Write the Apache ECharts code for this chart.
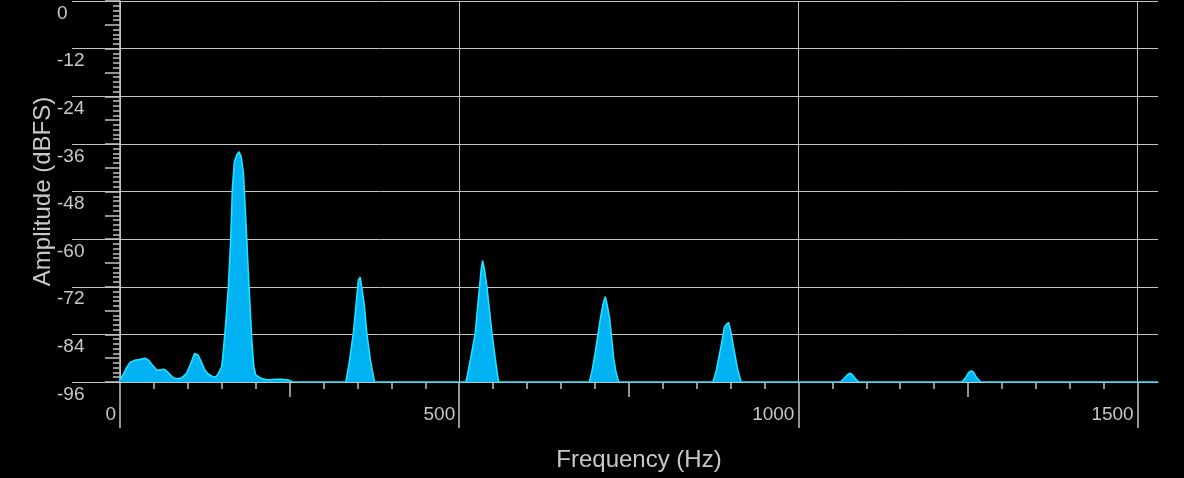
<!DOCTYPE html>
<html>
<head>
<meta charset="utf-8">
<script src="https://cdn.jsdelivr.net/npm/echarts@6/dist/echarts.min.js"></script>
<style>
html,body{margin:0;padding:0;background:#000;}
#c{width:1184px;height:478px;}
</style>
</head>
<body>
<div id="c"></div>
<script>
// Spectrum samples
const freqs = [
  0, 5, 10, 15, 22, 30, 37, 42, 48, 54, 60, 64, 68, 72, 77, 81, 88, 93, 98, 104,
  110, 115, 120, 125, 130, 135, 140, 144, 150, 152, 155.9, 159.8, 163.2, 165.6, 168.6, 172.1, 175.5, 178.5, 181.9, 184.4,
  186.9, 189.2, 191.7, 194.2, 197.2, 200, 205, 209, 218, 228, 238, 248, 255,
  333, 338, 344, 348, 351.5, 354, 356.4, 360, 363.8, 369, 375,
  510, 517, 523.6, 527, 530, 532.5, 534.5, 537, 540.8, 544.5, 548.2, 553, 558,
  692, 696, 700.6, 705, 709, 712.5, 715.3, 718, 721.7, 725, 727.6, 731, 735,
  874, 878.5, 882.5, 887, 891, 894, 897.2, 900.5, 904.6, 910, 915.4,
  1062, 1068, 1072, 1075.7, 1079, 1084, 1089,
  1241, 1247, 1251, 1254.7, 1258, 1263, 1269,
  1530
];
const amps = [
  -95.5, -94, -92.3, -91.1, -90.5, -90.3, -90.0, -90.5, -91.8, -93.0, -93.0, -92.8, -93.1, -93.8, -94.7, -95.1, -95.1, -94.7, -93.8, -91.5,
  -88.8, -89.2, -91.0, -93.0, -94.0, -94.5, -94.8, -94.2, -92.1, -88.8, -81.2, -72.0, -60.2, -47.6, -40.5, -38.8, -38.0, -39.2, -43.4, -51.8,
  -60.2, -68.6, -77.0, -85.4, -92.1, -94.2, -94.8, -95.1, -95.5, -95.3, -95.3, -95.5, -96,
  -96, -91, -83.7, -76.5, -70.2, -69.6, -70.1, -76.5, -83.7, -90.5, -96,
  -96, -90, -83.7, -77.5, -72, -67.5, -65.4, -67.5, -72, -77.8, -83.7, -90, -96,
  -96, -93, -88.4, -83.5, -79.1, -76, -74.5, -76.5, -80, -85.5, -90, -93.5, -96,
  -96, -93.5, -90, -86, -82.1, -81.5, -81.0, -83.5, -87.5, -92.5, -96,
  -96, -95, -94.2, -93.8, -94.1, -95.2, -96,
  -96, -94.8, -93.6, -93.2, -93.5, -95, -96,
  -96
];
const xMajorTicks = [0, 500, 1000, 1500];
const xMidTicks = [250, 750, 1250];
const xMinorTicks = [0, 50, 100, 150, 200, 250, 300, 350, 400, 450, 500, 550, 600, 650, 700, 750, 800, 850, 900, 950,
  1000, 1050, 1100, 1150, 1200, 1250, 1300, 1350, 1400, 1450, 1500];
const yMin = -96, yMax = 0, yMajorStep = 12, yMidStep = 6;
const xMin = 0, xMax = 1530;
const xName = 'Frequency (Hz)';
const yName = 'Amplitude (dBFS)';

const txt = '#c8c8c8';
const gridCol = '#c4c4c4';
const font = '"Liberation Sans", Arial, Helvetica, sans-serif';

const chart = echarts.init(document.getElementById('c'), null, {renderer: 'canvas'});
const hid = {show: false};
chart.setOption({
  backgroundColor: '#000',
  animation: false,
  grid: {left: 120, right: 26, top: 1, bottom: 96, outerBoundsMode: 'none', containLabel: false},
  xAxis: [
    {
      type: 'value', min: xMin, max: xMax, position: 'bottom',
      name: xName, nameLocation: 'middle', nameGap: 66, nameMoveOverlap: false,
      nameTextStyle: {color: txt, fontSize: 24, lineHeight: 24, fontFamily: font},
      axisLine: {show: true, onZero: false, lineStyle: {color: gridCol, width: 1}},
      axisTick: {show: true, customValues: xMajorTicks, length: 46, lineStyle: {color: gridCol, width: 1.5}},
      axisLabel: {show: true, customValues: xMajorTicks, color: txt, fontSize: 19, lineHeight: 19, fontFamily: font,
        align: 'right', padding: [0, 4, 0, 0], margin: 23, showMaxLabel: true, showMinLabel: true,
        formatter: v => String(v)},
      splitLine: {show: true, lineStyle: {color: gridCol, width: 1}}
    },
    {
      type: 'value', min: xMin, max: xMax, position: 'bottom',
      axisLine: {show: false, onZero: false},
      axisTick: {show: true, customValues: xMidTicks, length: 15, lineStyle: {color: gridCol, width: 1.5}},
      axisLabel: hid, splitLine: hid
    },
    {
      type: 'value', min: xMin, max: xMax, position: 'bottom',
      axisLine: {show: false, onZero: false},
      axisTick: {show: true, customValues: xMinorTicks, length: 7, lineStyle: {color: gridCol, width: 1.5}},
      axisLabel: hid, splitLine: hid
    }
  ],
  yAxis: [
    {
      type: 'value', min: yMin, max: yMax, interval: yMajorStep, position: 'left',
      name: yName, nameLocation: 'middle', nameGap: 65, nameRotate: 90, nameMoveOverlap: false,
      nameTextStyle: {color: txt, fontSize: 24, lineHeight: 24, fontFamily: font},
      axisLine: {show: true, onZero: false, lineStyle: {color: gridCol, width: 1.5}},
      axisTick: {show: true, length: 48, lineStyle: {color: gridCol, width: 1}},
      minorTick: {show: true, splitNumber: 10, length: 7, lineStyle: {color: gridCol, width: 1.5}},
      axisLabel: {show: true, color: txt, fontSize: 19, lineHeight: 25, fontFamily: font,
        align: 'left', verticalAlign: 'top', margin: 63},
      splitLine: {show: true, lineStyle: {color: gridCol, width: 1}}
    },
    {
      type: 'value', min: yMin, max: yMax, interval: yMidStep, position: 'left',
      axisLine: {show: false, onZero: false},
      axisTick: {show: true, length: 15, lineStyle: {color: gridCol, width: 1.5}},
      axisLabel: hid, splitLine: hid
    }
  ],
  series: [{
    type: 'line',
    xAxisIndex: 0, yAxisIndex: 0,
    data: freqs.map((f, i) => [f, amps[i]]),
    showSymbol: false, symbol: 'none', silent: true,
    smooth: false,
    lineStyle: {color: '#1fe2ff', width: 1.6},
    areaStyle: {color: '#00b2f2', opacity: 1, origin: 'start'},
    z: 5
  }]
});
</script>
</body>
</html>
